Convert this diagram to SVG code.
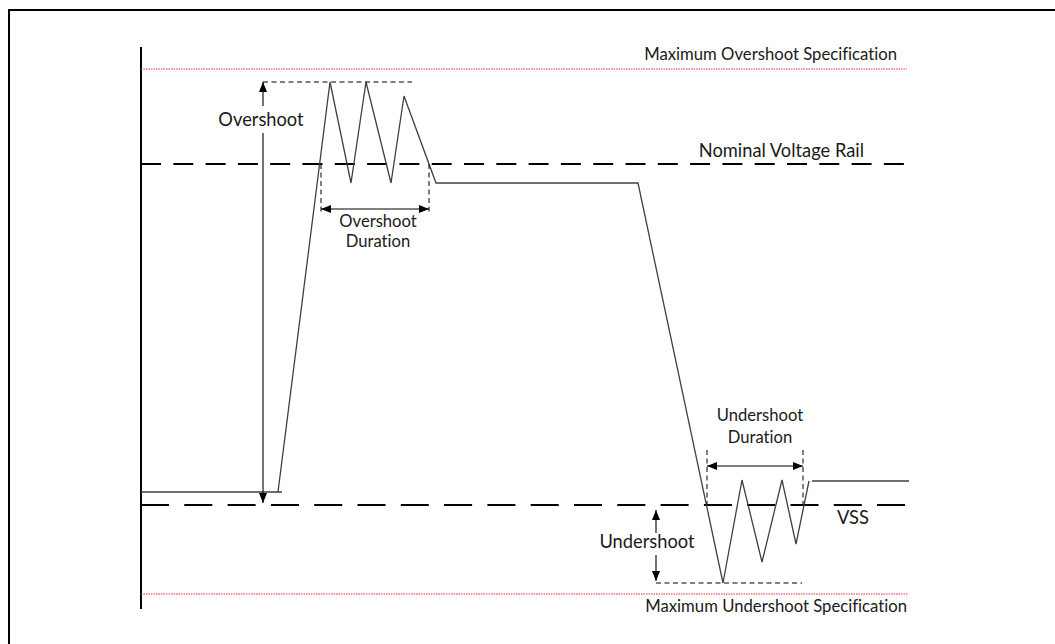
<svg xmlns="http://www.w3.org/2000/svg" width="1055" height="644" viewBox="0 0 1055 644">
<style>
text{font-family:Lato,"Open Sans",sans-serif;fill:#1a1a1a;font-variant-ligatures:none;font-feature-settings:"liga" 0}
.big{font-size:18.3px}
.sm{font-size:16.6px}
.spec{font-size:16.7px}
.axis{stroke:#000;stroke-width:2;fill:none}
.rail{stroke:#000;stroke-width:1.8;fill:none}
.red{stroke:#e8303a;stroke-width:1;stroke-dasharray:1.5 1;fill:none}
.wave{stroke:#404040;stroke-width:1.3;fill:none;stroke-linejoin:miter}
.thin{stroke:#000;stroke-width:1;fill:none;stroke-dasharray:5 3.5}
.arr{stroke:#000;stroke-width:1.1;fill:none}
</style>
<defs>
<marker id="ah" viewBox="0 0 10 8" refX="10" refY="4" markerWidth="10" markerHeight="8" markerUnits="userSpaceOnUse" orient="auto-start-reverse">
<path d="M0,0 L10,4 L0,8 Z" fill="#000"/>
</marker>
</defs>
<rect width="1055" height="644" fill="#fff"/>
<g id="frame">
<path d="M9,644 V10 H1055" stroke="#000" stroke-width="2" fill="none"/>
</g>
<g id="axis">
<line class="axis" x1="141" y1="47" x2="141" y2="609"/>
</g>
<g id="max-overshoot-spec">
<line class="red" x1="141" y1="69" x2="907" y2="69"/>
<text class="spec" x="897" y="60" text-anchor="end">Maximum Overshoot Specification</text>
</g>
<g id="nominal-rail">
<line class="rail" x1="141" y1="164" x2="907" y2="164" stroke-dasharray="20 12.3"/>
<text class="big" x="864" y="157" text-anchor="end">Nominal Voltage Rail</text>
</g>
<g id="vss-rail">
<line class="rail" x1="141" y1="505" x2="907" y2="505" stroke-dasharray="28 15.3"/>
<text class="big" x="837" y="524">VSS</text>
</g>
<g id="max-undershoot-spec">
<line class="red" x1="141" y1="594" x2="908" y2="594"/>
<text class="spec" x="907" y="612" text-anchor="end">Maximum Undershoot Specification</text>
</g>
<g id="waveform">
<polyline class="wave" points="141,492 282,492"/>
<polyline class="wave" points="278,492 330,82 351,183 366,82 391,183 404,96 436,183 638,183 723,583 742,480 762,562 782,480 796,544 809,481"/>
<line class="wave" x1="812" y1="481" x2="909" y2="481"/>
</g>
<g id="connectors">
<line class="thin" x1="263" y1="82" x2="412" y2="82"/>
<line class="arr" x1="263" y1="106" x2="263" y2="82" marker-end="url(#ah)"/>
<line class="arr" x1="263" y1="133" x2="263" y2="503" marker-end="url(#ah)"/>
<line class="thin" x1="321" y1="164" x2="321" y2="212"/>
<line class="thin" x1="429" y1="164" x2="429" y2="212"/>
<line class="arr" x1="321" y1="209" x2="429" y2="209" marker-start="url(#ah)" marker-end="url(#ah)"/>
<line class="thin" x1="707" y1="450" x2="707" y2="505"/>
<line class="thin" x1="803" y1="450" x2="803" y2="505"/>
<line class="arr" x1="707" y1="466" x2="803" y2="466" marker-start="url(#ah)" marker-end="url(#ah)"/>
<line class="arr" x1="656" y1="533" x2="656" y2="510" marker-end="url(#ah)"/>
<line class="arr" x1="656" y1="555" x2="656" y2="581" marker-end="url(#ah)"/>
<line class="thin" x1="656" y1="583" x2="802" y2="583"/>
</g>
<g id="label-overshoot">
<text class="big" x="261" y="126" text-anchor="middle">Overshoot</text>
</g>
<g id="label-overshoot-duration">
<text class="sm" x="378" y="227" text-anchor="middle">Overshoot</text>
<text class="sm" x="378" y="247" text-anchor="middle">Duration</text>
</g>
<g id="label-undershoot-duration">
<text class="sm" x="760" y="421" text-anchor="middle">Undershoot</text>
<text class="sm" x="760" y="443" text-anchor="middle">Duration</text>
</g>
<g id="label-undershoot">
<text class="big" x="647" y="548" text-anchor="middle">Undershoot</text>
</g>
</svg>
